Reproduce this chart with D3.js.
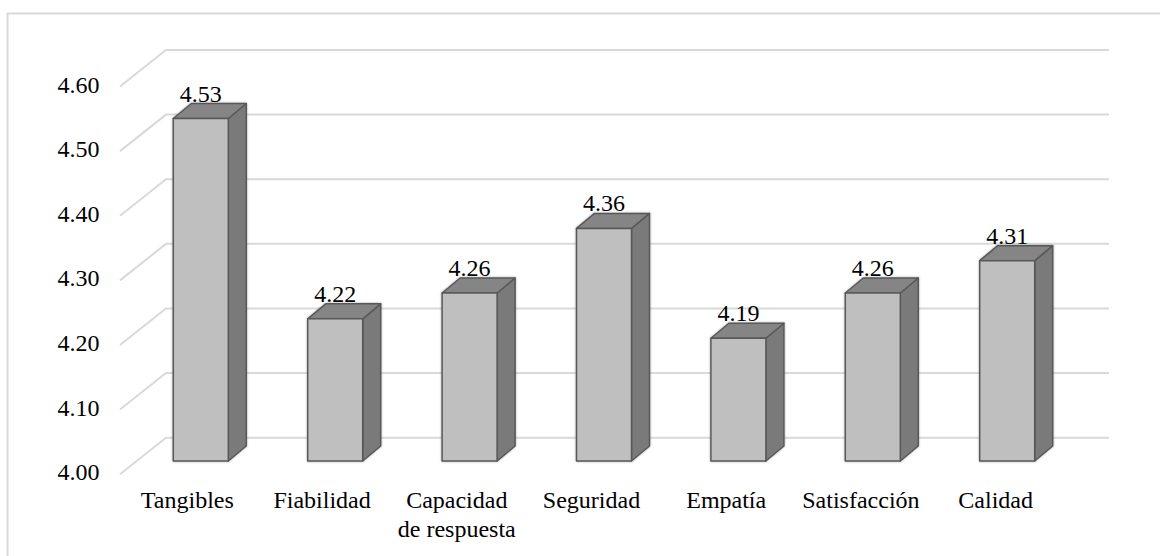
<!DOCTYPE html>
<html>
<head>
<meta charset="utf-8">
<script src="https://cdn.jsdelivr.net/npm/d3@7"></script>
</head>
<body style="margin:0">
<svg id="chart" width="1160" height="556"></svg>
<script>
// Dimension means
const categories = ["Tangibles", "Fiabilidad", "Capacidad\nde respuesta", "Seguridad", "Empatía", "Satisfacción", "Calidad"];
const values = [4.53, 4.22, 4.26, 4.36, 4.19, 4.26, 4.31];
const tickValues = [4.00, 4.10, 4.20, 4.30, 4.40, 4.50, 4.60];

const svg = d3.select("#chart");
const W = 1160, H = 556;

// Pick a serif face that actually resolves; size it so "Tangibles" spans ~93px.
const BASE = 23.5, TARGET = 93;
function measure(family, size) {
  const t = svg.append("text").style("font-family", family).attr("font-size", size).text("Tangibles");
  const w = t.node().getComputedTextLength();
  t.remove();
  return w;
}
const sansW = measure('"Liberation Sans", monospace', BASE);
const dvSansW = measure('"DejaVu Sans", monospace', BASE);
const candidates = ['"Liberation Serif"', '"Times New Roman"', 'Tinos', '"Noto Serif CJK SC"', '"Noto Serif"', '"DejaVu Serif"'];
let FONT = '"Liberation Serif", serif', FS = BASE;
for (const c of candidates) {
  const fam = c + ', monospace';
  const w = measure(fam, BASE);
  if (Math.abs(w - sansW) > 3 && Math.abs(w - dvSansW) > 3 && w > 0) {
    FONT = fam;
    FS = BASE * TARGET / w;
    break;
  }
}

// 3D wall geometry: back wall and the front edge of the floor
const back = { left: 166, right: 1109 };
const frontShift = { dx: -46, dy: 36.5 };   // back wall -> front axis edge
const barShift = { dy: 23.3 };             // back wall -> bar front faces
const depth = { dx: 18, dy: -15 };         // bar front face -> bar back face

const yBack = d3.scaleLinear().domain([4.0, 4.6]).range([437.7, 50]);
const xBack = d3.scaleBand().domain(categories).range([back.left, back.right]);
const xBar = d3.scaleBand().domain(categories).range([133.6, 1074.4]);
const barW = 55;

const defs = svg.append("defs");
const f = defs.append("filter").attr("id", "soft").attr("x", "-20%").attr("y", "-20%").attr("width", "140%").attr("height", "140%");
f.append("feDropShadow").attr("dx", 0).attr("dy", 0).attr("stdDeviation", 1.2)
  .attr("flood-color", "#000").attr("flood-opacity", 0.35);

// outer frame
svg.append("rect")
  .attr("x", 7.5).attr("y", 13.5).attr("width", W + 20).attr("height", H + 20)
  .attr("fill", "none").attr("stroke", "#d9d9d9").attr("stroke-width", 2);

// gridlines: side wall diagonal + back wall horizontal
const grid = svg.append("g").attr("fill", "none").attr("stroke", "#d9d9d9").attr("stroke-width", 2);
grid.selectAll("path").data(tickValues).join("path")
  .attr("d", v => {
    const yb = yBack(v);
    return `M${back.left + frontShift.dx},${yb + frontShift.dy}L${back.left},${yb}L${back.right},${yb}`;
  });

// y tick labels
svg.append("g").selectAll("text").data(tickValues).join("text")
  .style("font-family", FONT)
  .attr("font-size", FS)
  .attr("x", 99.5)
  .attr("y", v => yBack(v) + frontShift.dy + 6)
  .attr("text-anchor", "end")
  .attr("fill", "#000")
  .text(v => d3.format(".2f")(v));

// bars
const data = categories.map((c, i) => ({ c, v: values[i] }));
const bars = svg.append("g").selectAll("g").data(data).join("g")
  .attr("filter", "url(#soft)")
  .attr("stroke", "#595959").attr("stroke-width", 1.5).attr("stroke-linejoin", "round");

const x0 = d => xBar(d.c) + xBar.bandwidth() / 2 - barW / 2;
const x1 = d => x0(d) + barW;
const yTop = d => yBack(d.v) + barShift.dy;
const yBot = yBack(4.0) + barShift.dy;

// side face
bars.append("path").attr("fill", "#7a7a7a")
  .attr("d", d => `M${x1(d)},${yTop(d)}L${x1(d) + depth.dx},${yTop(d) + depth.dy}L${x1(d) + depth.dx},${yBot + depth.dy}L${x1(d)},${yBot}Z`);
// top face
bars.append("path").attr("fill", "#858585")
  .attr("d", d => `M${x0(d)},${yTop(d)}L${x0(d) + depth.dx},${yTop(d) + depth.dy}L${x1(d) + depth.dx},${yTop(d) + depth.dy}L${x1(d)},${yTop(d)}Z`);
// front face
bars.append("rect").attr("fill", "#bfbfbf")
  .attr("x", x0).attr("y", yTop).attr("width", barW).attr("height", d => yBot - yTop(d));

// value labels
svg.append("g").selectAll("text").data(data).join("text")
  .style("font-family", FONT)
  .attr("font-size", FS)
  .attr("x", d => xBar(d.c) + xBar.bandwidth() / 2)
  .attr("y", d => yTop(d) - 17)
  .attr("text-anchor", "middle")
  .attr("fill", "#000")
  .text(d => d3.format(".2f")(d.v));

// category labels on the front edge of the floor
const cat = svg.append("g").selectAll("text").data(categories).join("text")
  .style("font-family", FONT)
  .attr("font-size", FS)
  .attr("x", c => xBack(c) + xBack.bandwidth() / 2 + frontShift.dx)
  .attr("y", 508)
  .attr("text-anchor", "middle")
  .attr("fill", "#000");
cat.selectAll("tspan").data(c => c.split("\n").map(s => ({ s, c }))).join("tspan")
  .attr("x", d => xBack(d.c) + xBack.bandwidth() / 2 + frontShift.dx)
  .attr("dy", (d, i) => i === 0 ? 0 : 28.5)
  .text(d => d.s);
</script>
</body>
</html>
